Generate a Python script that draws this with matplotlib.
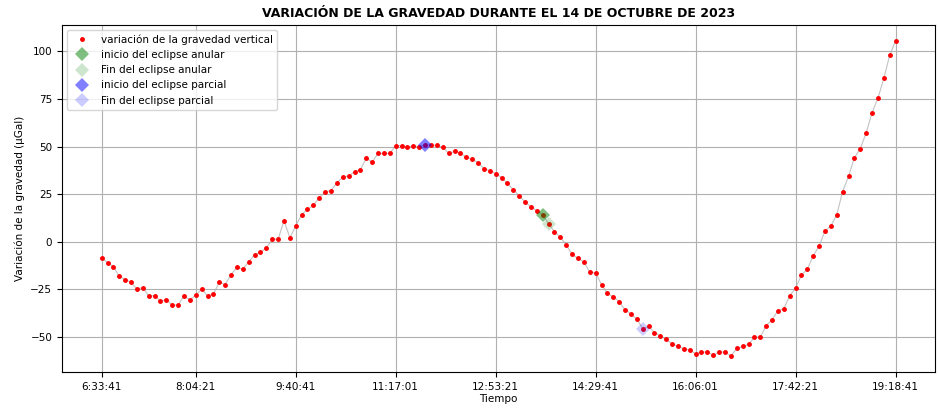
import matplotlib
matplotlib.use("Agg")
import matplotlib.pyplot as plt
from matplotlib.ticker import MultipleLocator

# variación de la gravedad (µGal), una lectura cada 5:40 desde las 6:33:41
gravedad = [
    -8.3, -10.9, -13.0, -18.1, -19.8, -21.2, -24.8, -24.0, -28.3, -28.3,
    -31.1, -30.4, -33.2, -33.2, -28.3, -30.4, -28.1, -24.8, -28.3, -27.4,
    -21.2, -22.4, -17.2, -13.4, -14.4, -10.4, -6.9, -5.5, -3.2, 1.3,
    1.3, 11.1, 2.2, 8.3, 14.3, 17.0, 19.1, 23.1, 26.2, 26.9,
    30.9, 34.0, 34.5, 36.8, 37.8, 43.9, 41.8, 46.4, 46.4, 46.4,
    50.5, 50.5, 49.5, 50.5, 49.8, 50.9, 50.6, 50.6, 49.5, 46.5,
    47.4, 46.5, 44.4, 43.4, 41.5, 38.4, 37.3, 35.8, 33.7, 30.6,
    27.3, 24.3, 20.8, 18.4, 16.3, 14.2, 9.5, 5.4, 2.3, -1.6,
    -6.6, -8.7, -10.6, -15.8, -16.3, -22.4, -27.1, -28.8, -31.4, -35.7,
    -37.8, -40.5, -45.5, -44.4, -47.6, -49.3, -51.2, -53.5, -54.7, -56.1,
    -56.8, -58.7, -57.8, -57.8, -59.5, -57.8, -57.8, -59.9, -55.9, -54.9,
    -53.8, -50.0, -50.0, -44.0, -40.8, -36.1, -35.1, -28.3, -24.3, -17.4,
    -14.4, -7.3, -2.2, 5.7, 8.3, 14.2, 26.4, 34.3, 44.1, 48.9,
    57.1, 67.7, 75.3, 85.7, 97.8, 105.5,
]

# posiciones de las etiquetas del eje x (indice de la lectura) y sus horas
pos_etiquetas = [0, 16, 33, 50, 67, 84, 101, 118, 135]
etiquetas = ["6:33:41", "8:04:21", "9:40:41", "11:17:01", "12:53:21",
             "14:29:41", "16:06:01", "17:42:21", "19:18:41"]

# lecturas que marcan el eclipse
i_inicio_anular = 75
i_fin_anular = 76
i_inicio_parcial = 55
i_fin_parcial = 92

x = list(range(len(gravedad)))

fig = plt.figure(figsize=(9.39, 4.09), dpi=100)
ax = fig.add_axes([0.066, 0.091, 0.93, 0.848])

ax.plot(x, gravedad, color="darkgray", lw=0.8, alpha=0.7)
ax.plot(x, gravedad, "r.", markersize=5, label="variación de la gravedad vertical")
ax.plot(i_inicio_anular, gravedad[i_inicio_anular], "D", color="green", alpha=0.5,
        markersize=7, markeredgewidth=0, label="inicio del eclipse anular")
ax.plot(i_fin_anular, gravedad[i_fin_anular], "D", color="green", alpha=0.2,
        markersize=7, markeredgewidth=0, label="Fin del eclipse anular")
ax.plot(i_inicio_parcial, gravedad[i_inicio_parcial], "D", color="blue", alpha=0.5,
        markersize=7, markeredgewidth=0, label="inicio del eclipse parcial")
ax.plot(i_fin_parcial, gravedad[i_fin_parcial], "D", color="blue", alpha=0.2,
        markersize=7, markeredgewidth=0, label="Fin del eclipse parcial")

ax.set_xticks(pos_etiquetas)
ax.set_xticklabels(etiquetas)
ax.yaxis.set_major_locator(MultipleLocator(25))
ax.tick_params(labelsize=7.5)
ax.grid(True)

ax.set_title("VARIACIÓN DE LA GRAVEDAD DURANTE EL 14 DE OCTUBRE DE 2023",
             fontsize=9, fontweight="bold")
ax.set_xlabel("Tiempo", fontsize=7.5, labelpad=2)
ax.set_ylabel("Variación de la gravedad (µGal)", fontsize=7.5)
ax.legend(loc="upper left", fontsize=7.5)

plt.savefig("out.png", dpi=100)
